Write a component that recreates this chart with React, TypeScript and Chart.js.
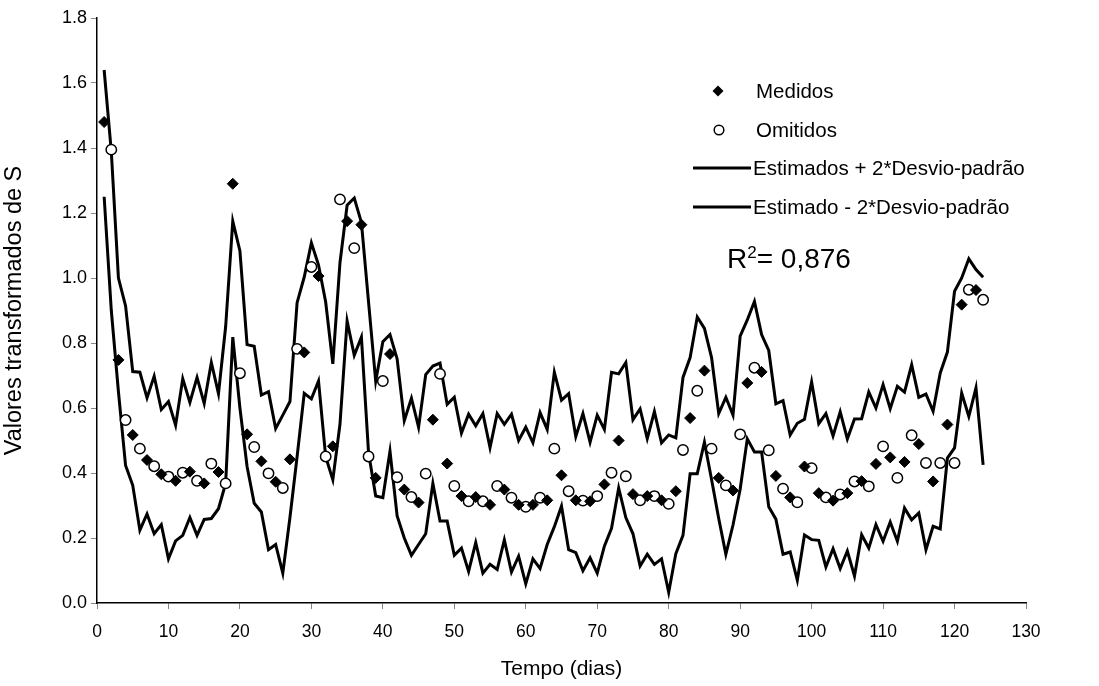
import React, { useEffect, useRef } from 'react';
import { Chart, registerables } from 'chart.js';

Chart.register(...registerables);

// ---- Data ----
const dias = [
  1, 2, 3, 4, 5, 6, 7, 8, 9, 10, 11, 12, 13, 14, 15, 16, 17, 18, 19, 20,
  21, 22, 23, 24, 25, 26, 27, 28, 29, 30, 31, 32, 33, 34, 35, 36, 37, 38, 39, 40,
  41, 42, 43, 44, 45, 46, 47, 48, 49, 50, 51, 52, 53, 54, 55, 56, 57, 58, 59, 60,
  61, 62, 63, 64, 65, 66, 67, 68, 69, 70, 71, 72, 73, 74, 75, 76, 77, 78, 79, 80,
  81, 82, 83, 84, 85, 86, 87, 88, 89, 90, 91, 92, 93, 94, 95, 96, 97, 98, 99, 100,
  101, 102, 103, 104, 105, 106, 107, 108, 109, 110, 111, 112, 113, 114, 115, 116, 117, 118, 119, 120,
  121, 122, 123, 124,
];

const superior = [
  1.64, 1.39, 1.0, 0.914, 0.712, 0.71, 0.631, 0.698, 0.595, 0.62,
  0.547, 0.69, 0.617, 0.694, 0.614, 0.74, 0.644, 0.85, 1.175, 1.083,
  0.795, 0.79, 0.64, 0.65, 0.537, 0.578, 0.62, 0.924, 1.003, 1.108,
  1.04, 0.926, 0.736, 1.047, 1.224, 1.246, 1.171, 0.926, 0.683, 0.804,
  0.826, 0.751, 0.561, 0.63, 0.541, 0.703, 0.729, 0.738, 0.611, 0.633,
  0.523, 0.581, 0.545, 0.583, 0.478, 0.583, 0.55, 0.581, 0.5, 0.541,
  0.493, 0.586, 0.534, 0.71, 0.624, 0.644, 0.512, 0.583, 0.495, 0.578,
  0.534, 0.71, 0.705, 0.74, 0.564, 0.597, 0.506, 0.589, 0.493, 0.517,
  0.508, 0.694, 0.755, 0.88, 0.845, 0.755, 0.583, 0.633, 0.578, 0.821,
  0.871, 0.928, 0.826, 0.777, 0.613, 0.623, 0.517, 0.553, 0.565, 0.68,
  0.552, 0.583, 0.514, 0.588, 0.505, 0.566, 0.567, 0.649, 0.6, 0.672,
  0.598, 0.667, 0.649, 0.733, 0.633, 0.643, 0.59, 0.708, 0.772, 0.959,
  1.0, 1.059, 1.026, 1.002,
];

const inferior = [
  1.25, 0.9, 0.65, 0.423, 0.362, 0.224, 0.274, 0.213, 0.241, 0.136,
  0.191, 0.208, 0.263, 0.208, 0.257, 0.26, 0.29, 0.368, 0.818, 0.6,
  0.42, 0.307, 0.28, 0.164, 0.18, 0.092, 0.263, 0.45, 0.645, 0.628,
  0.683, 0.45, 0.379, 0.55, 0.868, 0.762, 0.818, 0.462, 0.329, 0.324,
  0.467, 0.268, 0.2, 0.147, 0.18, 0.213, 0.368, 0.252, 0.252, 0.147,
  0.169, 0.097, 0.186, 0.092, 0.119, 0.103, 0.194, 0.095, 0.144, 0.059,
  0.136, 0.106, 0.18, 0.235, 0.298, 0.164, 0.155, 0.099, 0.139, 0.092,
  0.175, 0.23, 0.354, 0.263, 0.213, 0.114, 0.15, 0.119, 0.136, 0.033,
  0.152, 0.208, 0.398, 0.398, 0.495, 0.38, 0.26, 0.15, 0.24, 0.35,
  0.505, 0.465, 0.465, 0.296, 0.258, 0.15, 0.157, 0.07, 0.209, 0.195,
  0.193, 0.111, 0.167, 0.106, 0.16, 0.083, 0.21, 0.169, 0.241, 0.19,
  0.249, 0.19, 0.292, 0.256, 0.277, 0.164, 0.236, 0.228, 0.446, 0.477,
  0.646, 0.574, 0.662, 0.425,
];

const medidosDias = [
  1, 3, 5, 7, 9, 11, 13, 15, 17, 19, 21, 23, 25, 27, 29, 31, 33, 35, 37, 39,
  41, 43, 45, 47, 49, 51, 53, 55, 57, 59, 61, 63, 65, 67, 69, 71, 73, 75, 77, 79,
  81, 83, 85, 87, 89, 91, 93, 95, 97, 99, 101, 103, 105, 107, 109, 111, 113, 115, 117, 119,
  121, 123,
];
const medidos = [
  1.48, 0.748, 0.517, 0.44, 0.396, 0.376, 0.404, 0.368, 0.403, 1.29,
  0.519, 0.436, 0.373, 0.442, 0.771, 1.006, 0.482, 1.175, 1.164, 0.385,
  0.766, 0.349, 0.309, 0.564, 0.429, 0.329, 0.326, 0.302, 0.349, 0.302,
  0.302, 0.316, 0.393, 0.316, 0.313, 0.365, 0.5, 0.335, 0.329, 0.316,
  0.344, 0.569, 0.715, 0.385, 0.346, 0.677, 0.711, 0.391, 0.325, 0.42,
  0.338, 0.315, 0.338, 0.375, 0.428, 0.448, 0.434, 0.489, 0.374, 0.549,
  0.918, 0.963,
];

const omitidosDias = [
  2, 4, 6, 8, 10, 12, 14, 16, 18, 20, 22, 24, 26, 28, 30, 32, 34, 36, 38, 40,
  42, 44, 46, 48, 50, 52, 54, 56, 58, 60, 62, 64, 66, 68, 70, 72, 74, 76, 78, 80,
  82, 84, 86, 88, 90, 92, 94, 96, 98, 100, 102, 104, 106, 108, 110, 112, 114, 116, 118, 120,
  122, 124,
];
const omitidos = [
  1.395, 0.563, 0.475, 0.421, 0.389, 0.401, 0.376, 0.429, 0.368, 0.707,
  0.48, 0.399, 0.354, 0.782, 1.034, 0.451, 1.242, 1.092, 0.451, 0.683,
  0.387, 0.326, 0.398, 0.705, 0.36, 0.313, 0.313, 0.36, 0.324, 0.296,
  0.324, 0.475, 0.344, 0.315, 0.329, 0.401, 0.39, 0.316, 0.329, 0.305,
  0.471, 0.653, 0.475, 0.362, 0.519, 0.724, 0.47, 0.352, 0.31, 0.415,
  0.325, 0.334, 0.374, 0.359, 0.482, 0.385, 0.516, 0.431, 0.431, 0.431,
  0.964, 0.933,
];

const xMin = 0;
const xMax = 130;
const xStep = 10;
const yMin = 0;
const yMax = 1.8;
const yStep = 0.2;

const legendLabels = ['Medidos', 'Omitidos', 'Estimados + 2*Desvio-padrão', 'Estimado - 2*Desvio-padrão'];
const r2Value = '0,876';

const FONT = '"Liberation Sans", Arial, Helvetica, sans-serif';

const pts = (xs: number[], ys: number[]) => xs.map((x, i) => ({ x, y: ys[i] }));

const overlayPlugin = {
  id: 'overlayLegend',
  afterDraw(chart: any) {
    const ctx = chart.ctx as CanvasRenderingContext2D;
    ctx.save();
    ctx.fillStyle = '#000';
    ctx.strokeStyle = '#000';
    ctx.textBaseline = 'middle';
    ctx.textAlign = 'left';
    ctx.font = `20.5px ${FONT}`;
    const textX = 756;
    const rows = [91, 130, 168, 207];

    // diamond
    const dx = 718;
    const r = 5.5;
    ctx.beginPath();
    ctx.moveTo(dx - r, rows[0]);
    ctx.lineTo(dx, rows[0] - r);
    ctx.lineTo(dx + r, rows[0]);
    ctx.lineTo(dx, rows[0] + r);
    ctx.closePath();
    ctx.fill();
    ctx.fillText(legendLabels[0], textX, rows[0] + 1);

    // circle
    ctx.beginPath();
    ctx.arc(dx + 1, rows[1], 4.8, 0, Math.PI * 2);
    ctx.fillStyle = '#fff';
    ctx.fill();
    ctx.lineWidth = 1.5;
    ctx.stroke();
    ctx.fillStyle = '#000';
    ctx.fillText(legendLabels[1], textX, rows[1] + 1);

    // lines
    ctx.lineWidth = 3;
    for (let i = 2; i < 4; i++) {
      ctx.beginPath();
      ctx.moveTo(693, rows[i]);
      ctx.lineTo(751, rows[i]);
      ctx.stroke();
      ctx.fillText(legendLabels[i], textX - 3, rows[i] + 1);
    }

    // R^2
    let x = 727;
    const base = 268;
    ctx.font = `28px ${FONT}`;
    ctx.textBaseline = 'alphabetic';
    ctx.fillText('R', x, base);
    x += ctx.measureText('R').width;
    ctx.font = `17px ${FONT}`;
    ctx.fillText('2', x, base - 10);
    x += ctx.measureText('2').width;
    ctx.font = `28px ${FONT}`;
    ctx.fillText('= ' + r2Value, x, base);
    ctx.restore();
  },
};

export default function App() {
  const ref = useRef<HTMLCanvasElement | null>(null);

  useEffect(() => {
    if (!ref.current) return;
    const chart = new Chart(ref.current, {
      type: 'line',
      data: {
        datasets: [
          {
            label: 'Medidos',
            data: pts(medidosDias, medidos),
            showLine: false,
            pointStyle: 'rectRot',
            pointRadius: 5.5,
            pointBackgroundColor: '#000',
            pointBorderColor: '#000',
            pointBorderWidth: 1,
            pointHoverRadius: 5.5,
          },
          {
            label: 'Omitidos',
            data: pts(omitidosDias, omitidos),
            showLine: false,
            pointStyle: 'circle',
            pointRadius: 5.2,
            pointBackgroundColor: '#fff',
            pointBorderColor: '#000',
            pointBorderWidth: 1.5,
            pointHoverRadius: 5.2,
          },
          {
            label: 'Estimados + 2*Desvio-padrão',
            data: pts(dias, superior),
            borderColor: '#000',
            borderWidth: 3,
            pointRadius: 0,
            tension: 0,
            fill: false,
          },
          {
            label: 'Estimado - 2*Desvio-padrão',
            data: pts(dias, inferior),
            borderColor: '#000',
            borderWidth: 3,
            pointRadius: 0,
            tension: 0,
            fill: false,
          },
        ],
      },
      options: {
        animation: false,
        responsive: false,
        maintainAspectRatio: false,
        layout: { padding: { left: 0, right: 73, top: 18, bottom: 0 } },
        plugins: {
          legend: { display: false },
          tooltip: { enabled: false },
        },
        scales: {
          x: {
            type: 'linear',
            min: xMin,
            max: xMax,
            afterFit: (s: any) => {
              s.height = 83;
            },
            ticks: {
              stepSize: xStep,
              color: '#000',
              font: { family: FONT, size: 17.5 },
              padding: 13,
              maxRotation: 0,
            },
            grid: {
              display: true,
              drawOnChartArea: false,
              drawTicks: true,
              tickLength: 6,
              color: '#888',
            },
            border: { display: true, color: '#000', width: 1.5 },
            title: {
              display: true,
              text: 'Tempo (dias)',
              color: '#000',
              font: { family: FONT, size: 21 },
              padding: { top: 0, bottom: 4 },
            },
          },
          y: {
            type: 'linear',
            min: yMin,
            max: yMax,
            afterFit: (s: any) => {
              s.width = 97;
            },
            ticks: {
              stepSize: yStep,
              color: '#000',
              font: { family: FONT, size: 18 },
              padding: 4,
              callback: (v: any) => Number(v).toFixed(1),
            },
            grid: {
              display: true,
              drawOnChartArea: false,
              drawTicks: true,
              tickLength: 6,
              color: '#888',
            },
            border: { display: true, color: '#000', width: 1.5 },
            title: {
              display: true,
              text: 'Valores transformados de S',
              color: '#000',
              font: { family: FONT, size: 23.5 },
              padding: { top: 0, bottom: 0 },
            },
          },
        },
      },
      plugins: [overlayPlugin],
    });
    return () => chart.destroy();
  }, []);

  return (
    <div style={{ position: 'absolute', left: 0, top: 0, width: 1099, height: 686, background: '#fff' }}>
      <canvas ref={ref} width={1099} height={686} style={{ width: 1099, height: 686, display: 'block' }} />
    </div>
  );
}
